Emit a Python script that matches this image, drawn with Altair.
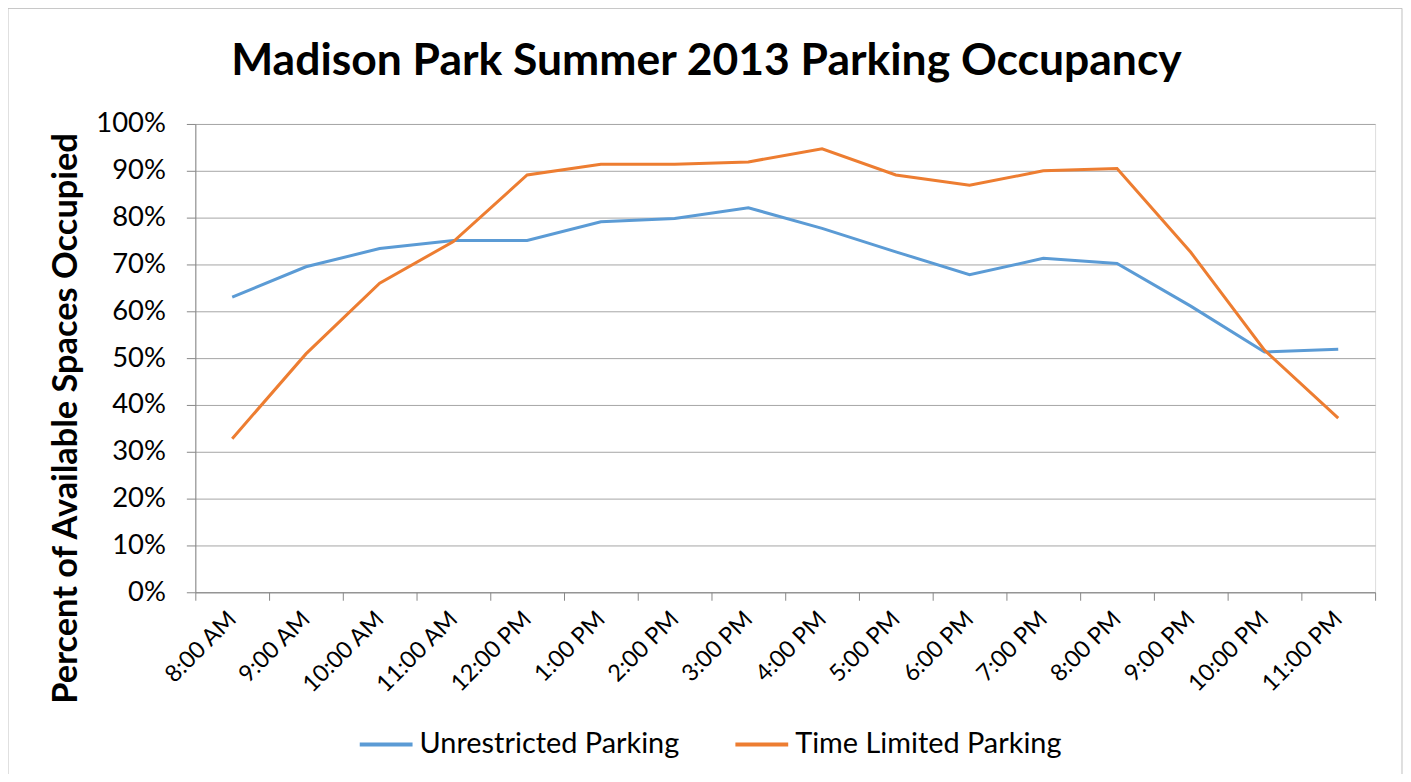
import altair as alt
import pandas as pd

times = ["8:00 AM", "9:00 AM", "10:00 AM", "11:00 AM", "12:00 PM", "1:00 PM", "2:00 PM", "3:00 PM",
         "4:00 PM", "5:00 PM", "6:00 PM", "7:00 PM", "8:00 PM", "9:00 PM", "10:00 PM", "11:00 PM"]
unrestricted = [0.630, 0.695, 0.734, 0.751, 0.751, 0.791, 0.798, 0.821,
                0.777, 0.727, 0.678, 0.713, 0.702, 0.611, 0.513, 0.519]
time_limited = [0.328, 0.509, 0.660, 0.749, 0.891, 0.914, 0.914, 0.919,
                0.947, 0.891, 0.869, 0.900, 0.905, 0.726, 0.517, 0.372]
series_names = ["Unrestricted Parking", "Time Limited Parking"]
series_colors = ["#5B9BD5", "#ED7D31"]

rows = []
for name, vals in zip(series_names, [unrestricted, time_limited]):
    for t, v in zip(times, vals):
        rows.append({"time": t, "value": v, "series": name})
df = pd.DataFrame(rows)

FONT = "Lato"

lines = alt.Chart(df).mark_line(strokeWidth=3).encode(
    x=alt.X("time:N", sort=times,
            scale=alt.Scale(paddingInner=0, paddingOuter=0),
            axis=alt.Axis(title=None, labelAngle=315, labelAlign="right", labelBaseline="middle",
                          labelFontSize=23.5, labelFont=FONT, labelColor="#000000",
                          tickBand="extent", tickSize=8, tickColor="#888888",
                          domainColor="#888888", labelPadding=15, grid=False)),
    y=alt.Y("value:Q", scale=alt.Scale(domain=[0, 1], nice=False),
            axis=alt.Axis(format=".0%", values=[i / 10 for i in range(11)],
                          title="Percent of Available Spaces Occupied",
                          titleFont=FONT, titleFontSize=34.5, titleFontWeight="bold", titleColor="#000000",
                          titleAngle=270, titleX=-129, titleY=295, titleAlign="center", titleBaseline="middle",
                          labelFontSize=27.5, labelFont=FONT, labelColor="#000000",
                          tickSize=9, tickColor="#888888", domainColor="#888888",
                          gridColor="#a6a6a6", labelPadding=21)),
    color=alt.Color("series:N", sort=series_names,
                    scale=alt.Scale(domain=series_names, range=series_colors),
                    legend=alt.Legend(title=None, orient="none", legendX=163, legendY=594,
                                      direction="horizontal", symbolType="stroke",
                                      symbolSize=2809, symbolStrokeWidth=4,
                                      labelFontSize=29, labelFont=FONT, labelColor="#000000",
                                      labelLimit=500, labelOffset=5, columnPadding=48)),
)

border = alt.Chart(pd.DataFrame({"a": [0]})).mark_rect(
    filled=False, stroke="#c0c0c0", strokeWidth=1, clip=False
).encode(x=alt.value(-188), x2=alt.value(1211), y=alt.value(-116), y2=alt.value(700))

chart = alt.layer(border, lines).properties(
    width=1184, height=470,
    autosize=alt.AutoSizeParams(type="none"),
    padding={"left": 188, "top": 115, "right": 28, "bottom": 181},
    title=alt.TitleParams("Madison Park Summer 2013 Parking Occupancy", font=FONT, fontSize=44.6,
                          fontWeight="bold", color="#000000", anchor="middle", frame="group",
                          dx=-79, baseline="alphabetic", offset=0, dy=112),
).configure_view(stroke=None).configure(background="white")

chart.save("out.html", embed_options={"renderer": "svg", "actions": False})
